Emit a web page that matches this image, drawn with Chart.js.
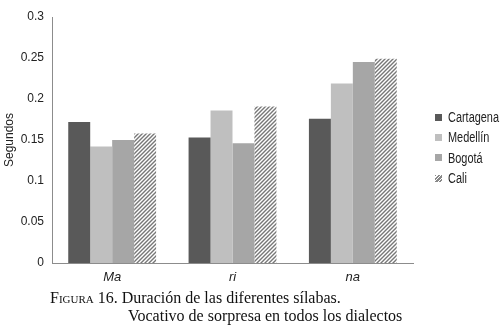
<!DOCTYPE html>
<html>
<head>
<meta charset="utf-8">
<script src="https://cdn.jsdelivr.net/npm/chart.js@4"></script>
<style>
  body { margin: 0; background: #fff; }
  #wrap { position: relative; width: 500px; height: 331px; }
  #legend { position: absolute; left: 435px; top: 107px; font-family: "Liberation Sans", Arial, sans-serif; font-size: 14px; color: #222; }
  .item { display: flex; align-items: center; height: 20.3px; }
  .box { width: 7px; height: 7px; margin-right: 6px; }
  .item span { display: inline-block; transform: scaleX(0.78); transform-origin: left center; }
  #caption { position: absolute; left: 0; top: 289px; font-family: "Liberation Serif", "Times New Roman", serif; font-size: 16px; color: #111; line-height: 18px; }
  .sc { font-variant: small-caps; }
</style>
</head>
<body>
<div id="wrap">
  <canvas id="chart" width="500" height="292"></canvas>
  <div id="legend"></div>
  <div id="caption">
    <div style="padding-left:50px"><span class="sc">Figura</span> 16. Duración de las diferentes sílabas.</div>
    <div style="padding-left:128px">Vocativo de sorpresa en todos los dialectos</div>
  </div>
</div>
<script>
const syllables = ["Ma", "ri", "na"];
const dialects = ["Cartagena", "Medellín", "Bogotá", "Cali"];
const cartagena = [0.172, 0.153, 0.176];
const medellin = [0.142, 0.186, 0.219];
const bogota = [0.150, 0.146, 0.245];
const cali = [0.158, 0.191, 0.249];
const yTickLabels = ["0", "0.05", "0.1", "0.15", "0.2", "0.25", "0.3"];

const sans = "'Liberation Sans', Arial, sans-serif";

// diagonal hatch for Cali
function hatch() {
  const c = document.createElement("canvas");
  c.width = 4; c.height = 4;
  const g = c.getContext("2d");
  g.fillStyle = "#fff";
  g.fillRect(0, 0, 4, 4);
  g.strokeStyle = "#777";
  g.lineWidth = 1.4;
  g.beginPath();
  g.moveTo(0, 4); g.lineTo(4, 0);
  g.moveTo(-1, 1); g.lineTo(1, -1);
  g.moveTo(3, 5); g.lineTo(5, 3);
  g.stroke();
  return g.createPattern(c, "repeat");
}
const fills = ["#595959", "#bfbfbf", "#a6a6a6", hatch()];
const series = [cartagena, medellin, bogota, cali];

new Chart(document.getElementById("chart"), {
  type: "bar",
  data: {
    labels: syllables,
    datasets: dialects.map((d, i) => ({
      label: d,
      data: series[i],
      backgroundColor: fills[i],
      borderWidth: 0
    }))
  },
  options: {
    responsive: false,
    animation: false,
    layout: { padding: { top: 17, right: 87, left: 0, bottom: 0 } },
    datasets: { bar: { barPercentage: 1, categoryPercentage: 0.73 } },
    plugins: { legend: { display: false }, tooltip: { enabled: false } },
    scales: {
      x: {
        afterFit: s => { s.height = 29; },
        grid: { display: false, drawTicks: false },
        border: { color: "#8c8c8c" },
        ticks: { color: "#222", padding: 7, font: { family: sans, size: 13, style: "italic" } }
      },
      y: {
        min: 0, max: 0.3,
        afterFit: s => { s.width = 52; },
        grid: { display: false, drawTicks: false },
        border: { color: "#8c8c8c" },
        ticks: {
          stepSize: 0.05,
          color: "#222",
          padding: 8,
          font: { family: sans, size: 12 },
          callback: (v, i) => yTickLabels[i]
        },
        title: { display: true, text: "Segundos", color: "#222", padding: { top: 2, bottom: 2 }, font: { family: sans, size: 12 } }
      }
    }
  }
});

// legend like the original
const leg = document.getElementById("legend");
dialects.forEach((d, i) => {
  const item = document.createElement("div");
  item.className = "item";
  const box = document.createElement("div");
  box.className = "box";
  if (i === 3) box.style.background = "repeating-linear-gradient(-45deg, #fff 0 1px, #888 1px 2.5px)";
  else box.style.background = fills[i];
  const t = document.createElement("span");
  t.textContent = d;
  item.appendChild(box);
  item.appendChild(t);
  leg.appendChild(item);
});
</script>
</body>
</html>
